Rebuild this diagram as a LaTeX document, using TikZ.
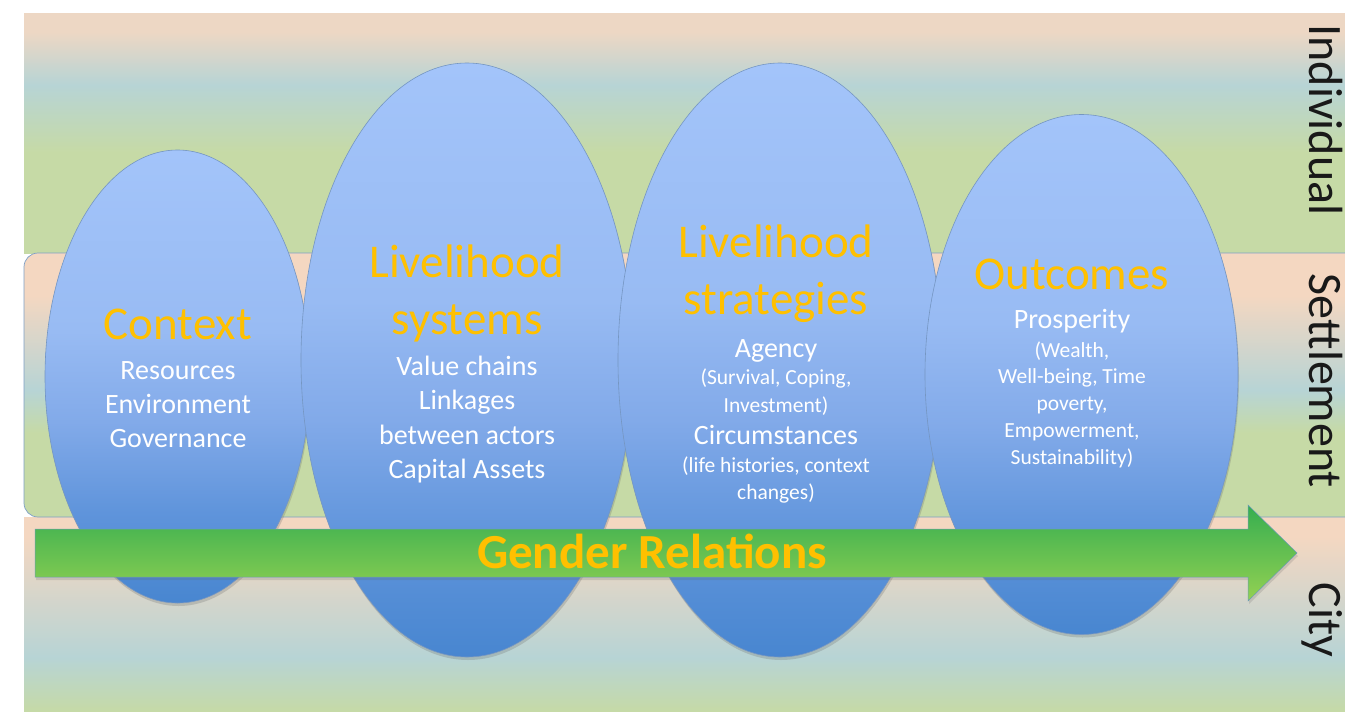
\documentclass[tikz,border=0pt]{standalone}
\usepackage{fontspec}
\setmainfont{Carlito}
\usetikzlibrary{shapes.geometric,shadows}
\definecolor{bpeachT}{HTML}{EDD7C4}
\definecolor{bpeachM}{HTML}{F4D7C1}
\definecolor{bblue}{HTML}{B7D4D5}
\definecolor{bgreen}{HTML}{C6DAA6}
\definecolor{etop}{HTML}{A3C4FA}
\definecolor{eA}{HTML}{98BBF3}
\definecolor{eB}{HTML}{82AAE9}
\definecolor{eC}{HTML}{5F94DB}
\definecolor{ebot}{HTML}{4886D0}
\definecolor{eline}{HTML}{7596C2}
\definecolor{gold}{HTML}{FFC000}
\definecolor{agtop}{HTML}{35AE50}
\definecolor{agbot}{HTML}{94D152}
\definecolor{arline}{HTML}{6A9CB8}
\definecolor{bandline}{HTML}{7E9FC6}
\pgfdeclareverticalshading{topband}{100bp}{color(0bp)=(bgreen); color(25bp)=(bgreen); color(46bp)=(bgreen); color(60bp)=(bblue); color(71bp)=(bpeachT); color(75bp)=(bpeachT); color(100bp)=(bpeachT)}
\pgfdeclareverticalshading{midband}{100bp}{color(0bp)=(bgreen); color(25bp)=(bgreen); color(41bp)=(bgreen); color(49bp)=(bblue); color(67bp)=(bpeachM); color(75bp)=(bpeachM); color(100bp)=(bpeachM)}
\pgfdeclareverticalshading{botband}{100bp}{color(0bp)=(bgreen); color(25bp)=(bgreen); color(39bp)=(bblue); color(70bp)=(bpeachM); color(75bp)=(bpeachM); color(100bp)=(bpeachM)}
\pgfdeclareverticalshading{ellshade}{100bp}{color(0bp)=(ebot); color(25bp)=(ebot); color(35bp)=(eC); color(45bp)=(eB); color(55bp)=(eA); color(75bp)=(etop); color(100bp)=(etop)}
\begin{document}
\begin{tikzpicture}[x=1pt,y=-1pt,
  ell/.style={ellipse, draw=eline, line width=0.6pt, shade, shading=ellshade, inner sep=0pt,
    drop shadow={shadow xshift=1pt, shadow yshift=-3pt, opacity=0.25, fill=black!60}},
  ttl/.style={inner sep=0pt, text height=32pt, text depth=2.4pt, text=gold, font=\fontsize{47}{56}\selectfont},
  bod/.style={inner sep=0pt, text height=19pt, text depth=1.4pt, text=white, font=\fontsize{28}{34}\selectfont},
  sml/.style={inner sep=0pt, text height=14.6pt, text depth=1.1pt, text=white, font=\fontsize{21.5}{27}\selectfont},
  lvl/.style={inner sep=0pt, text height=32.6pt, text depth=2.4pt, rotate=-90, text=black!90, font=\fontsize{48}{58}\selectfont},
  gen/.style={inner sep=0pt, text height=33pt, text depth=2.4pt, text=gold, font=\fontsize{49}{58}\selectfont\bfseries}]
\useasboundingbox (0,0) rectangle (1345,712);
\fill[white] (0,0) rectangle (1345,712);
\begin{scope}
\clip (0,0) rectangle (1345,712);
\shade[shading=topband] (24,13) rectangle (1345,253);
\shade[shading=botband] (24,517) rectangle (1345,712);
\shadedraw[shading=midband, draw=bandline, line width=0.7pt, rounded corners=14pt] (24,253) rectangle (1375,517);
\end{scope}
% ellipses
\node[ell, minimum width=265pt, minimum height=453pt] (ctx) at (177.5,376.5) {};
\node[ell, minimum width=332pt, minimum height=594pt] (sys) at (467,360) {};
\node[ell, minimum width=324pt, minimum height=594pt] (str) at (780,360) {};
\node[ell, minimum width=313pt, minimum height=520pt] (out) at (1081.5,374.5) {};
% Context
\node[ttl] (ctxT) at (178,325) {Context};
\node[bod] (ctx1) at (178,371) {Resources};
\node[bod] (ctx2) at (178,405) {Environment};
\node[bod] (ctx3) at (178,439) {Governance};
% Livelihood systems
\node[ttl] (sysT1) at (467,263) {Livelihood};
\node[ttl] (sysT2) at (467,320) {systems};
\node[bod] (sys1) at (467,367) {Value chains};
\node[bod] (sys2) at (467,401) {Linkages};
\node[bod] (sys3) at (467,436) {between actors};
\node[bod] (sys4) at (467,470) {Capital Assets};
% Livelihood strategies
\node[ttl] (strT1) at (776,243) {Livelihood};
\node[ttl] (strT2) at (776,300) {strategies};
\node[bod] (str1) at (776,349) {Agency};
\node[sml] (str2) at (776,378) {(Survival, Coping,};
\node[sml] (str3) at (776,406) {Investment)};
\node[bod] (str4) at (776,436) {Circumstances};
\node[sml] (str5) at (776,466) {(life histories, context};
\node[sml] (str6) at (776,493) {changes)};
% Outcomes
\node[ttl] (outT) at (1072,275) {Outcomes};
\node[bod] (out1) at (1072,320) {Prosperity};
\node[sml] (out2) at (1072,351) {(Wealth,};
\node[sml] (out3) at (1072,377) {Well-being, Time};
\node[sml] (out4) at (1072,404) {poverty,};
\node[sml] (out5) at (1072,431) {Empowerment,};
\node[sml] (out6) at (1072,458) {Sustainability)};
% arrow
\coordinate (aTip) at (1297,553);
\shadedraw[top color=agtop, bottom color=agbot, draw=arline, line width=0.5pt,
  drop shadow={shadow xshift=1pt, shadow yshift=-3pt, opacity=0.2, fill=black!60}]
  (35,529) -- (1248,529) -- (1248,505) -- (aTip) -- (1248,601) -- (1248,577) -- (35,577) -- cycle;
\node[gen] (gender) at (652,553) {Gender Relations};
% level labels
\node[lvl] (ind) at (1325,120) {Individual};
\node[lvl] (set) at (1325,381) {Settlement};
\node[lvl] (city) at (1325,620) {City};
\end{tikzpicture}
\end{document}
